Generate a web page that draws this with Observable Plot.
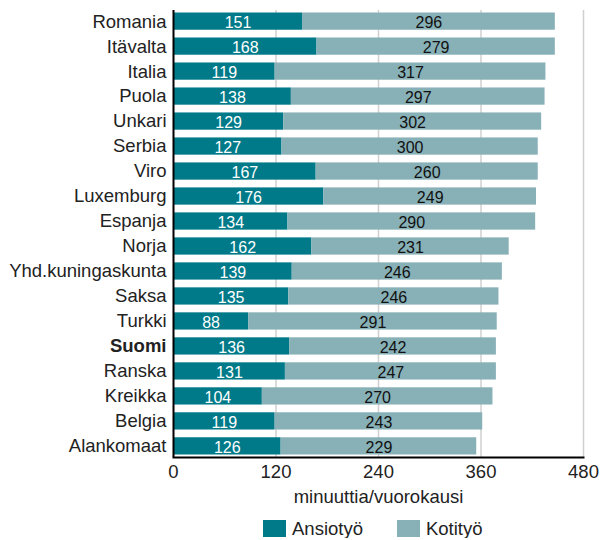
<!DOCTYPE html>
<html><head><meta charset="utf-8">
<script src="https://cdn.jsdelivr.net/npm/d3@7"></script>
<script src="https://cdn.jsdelivr.net/npm/@observablehq/plot@0.6"></script>
<style>
body{margin:0;background:#fff;font-family:"Liberation Sans",Arial,sans-serif;overflow:hidden;}
#legend{display:flex;gap:34px;font-size:18.5px;line-height:20px;color:#222;padding-left:263px;height:18px;align-items:center;}
#legend span.sw{display:inline-block;width:23px;height:17px;margin-right:6px;vertical-align:-2px;}
</style></head>
<body>
<div id="chart"></div>
<div id="legend"></div>
<script>
const countries = ["Romania","Itävalta","Italia","Puola","Unkari","Serbia","Viro","Luxemburg","Espanja","Norja","Yhd.kuningaskunta","Saksa","Turkki","Suomi","Ranska","Kreikka","Belgia","Alankomaat"];
const ansiotyo = [151,168,119,138,129,127,167,176,134,162,139,135,88,136,131,104,119,126];
const kotityo = [296,279,317,297,302,300,260,249,290,231,246,246,291,242,247,270,243,229];
const xTicks = [0,120,240,360,480];
const seriesNames = ["Ansiotyö","Kotityö"];
const colors = ["#007a89","#87b0b7"];
const highlight = "Suomi";

const rows = [];
countries.forEach((c,i)=>{
  rows.push({country:c, series:seriesNames[0], x1:0, x2:ansiotyo[i], v:ansiotyo[i]});
  rows.push({country:c, series:seriesNames[1], x1:ansiotyo[i], x2:ansiotyo[i]+kotityo[i], v:kotityo[i]});
});

const font = '"Liberation Sans",Arial,sans-serif';
const plot = Plot.plot({
  width:600, height:520,
  marginLeft:173, marginRight:17, marginTop:10, marginBottom:63,
  style:{fontFamily:font, fontSize:"18.5px", color:"#222"},
  x:{domain:[0,480], label:"minuuttia/vuorokausi"},
  y:{domain:countries, paddingInner:0.31, paddingOuter:0.1, round:false, label:null},
  color:{domain:seriesNames, range:colors},
  marks:[
    Plot.ruleX(xTicks.slice(1), {stroke:"#d0d0d0", strokeWidth:1.5}),
    Plot.barX(rows, {y:"country", x1:"x1", x2:"x2", fill:"series"}),
    Plot.text(rows, {y:"country", x:d=>(d.x1+d.x2)/2, dy:1, text:d=>String(d.v),
      fill:d=>d.series===seriesNames[0]?"white":"#111",
      fontWeight:d=>d.country===highlight?"bold":"normal", fontSize:16}),
    Plot.axisY({ticks:countries.filter(c=>c!==highlight), tickSize:0, tickPadding:7, fontSize:18.5, label:null}),
    Plot.axisY({ticks:[highlight], tickSize:0, tickPadding:7, fontSize:18.5, fontWeight:"bold", label:null}),
    Plot.axisX({ticks:xTicks, tickSize:0, tickPadding:7, fontSize:18.5, label:"minuuttia/vuorokausi", labelAnchor:"center", labelArrow:"none", labelOffset:45}),
    Plot.ruleX([0], {stroke:"#000", strokeWidth:2}),
    Plot.frame({anchor:"bottom", stroke:"#000", strokeWidth:2})
  ]
});
document.getElementById("chart").appendChild(plot);

const lg = document.getElementById("legend");
seriesNames.forEach((s,i)=>{
  const d = document.createElement("div");
  d.innerHTML = `<span class="sw" style="background:${colors[i]}"></span>${s}`;
  lg.appendChild(d);
});
</script>
</body></html>
